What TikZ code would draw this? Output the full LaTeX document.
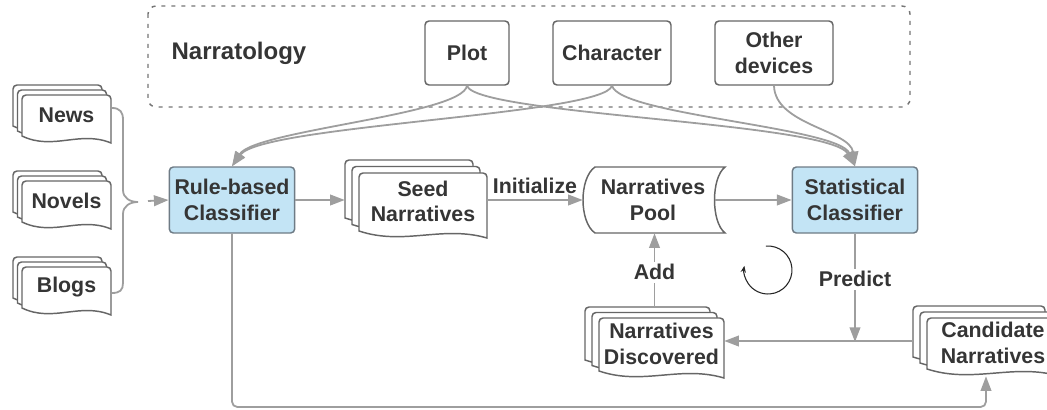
\documentclass[tikz,border=0pt]{standalone}
\usepackage{fontspec}
\setmainfont{Liberation Sans}
\usetikzlibrary{arrows.meta,fit,calc}
\definecolor{txt}{HTML}{353535}
\definecolor{lg}{HTML}{9E9E9E}
\definecolor{bd}{HTML}{666666}
\definecolor{cbd}{HTML}{6E7B85}
\definecolor{cfill}{HTML}{C3E4F5}
\tikzset{
  lbl/.style={font=\fontsize{16}{19}\selectfont\bfseries, text=txt, align=center, inner sep=0pt},
  docline/.style={draw=bd, fill=white, line width=1.1pt},
  cls/.style={lbl, draw=cbd, fill=cfill, line width=1.1pt, rounded corners=3pt, minimum width=94pt, minimum height=49.5pt},
  tbox/.style={lbl, draw=bd, fill=white, line width=1.1pt, rounded corners=3pt, minimum height=48pt},
  conn/.style={draw=lg, line width=1.35pt},
  arr/.style={conn, -{Triangle[length=11pt,width=8pt]}, color=lg},
  elbl/.style={lbl, fill=white, inner sep=2pt},
}
\newcommand\docshape[4]{%
  \filldraw[docline] (#1,#2+#4-7) [rounded corners=3pt] -- (#1,#2) -- (#1+#3,#2) [sharp corners] -- (#1+#3,#2+#4)
    .. controls (#1+0.65*#3,#2+#4-13) and (#1+0.35*#3,#2+#4+8) .. (#1,#2+#4-7) -- cycle;}
\newcommand\stackdoc[8]{%
  \docshape{#2-2*#6}{#3-2*#7}{#4}{#5}
  \docshape{#2-#6}{#3-#7}{#4}{#5}
  \docshape{#2}{#3}{#4}{#5}
  \coordinate (#1-a) at (#2-2*#6,#3-2*#7);
  \coordinate (#1-b) at (#2+#4,#3+#5);
  \node[fit=(#1-a)(#1-b),inner sep=0pt] (#1) {};
  \node[lbl] (#1-t) at (#2+#4/2,#3+#5/2-4) {#8};
}
\begin{document}
\begin{tikzpicture}[x=0.75pt,y=-0.75pt]
\useasboundingbox (0,0) rectangle (1047,410);
% narratology frame
\draw[draw=bd!90, line width=1.1pt, dash pattern=on 3pt off 4.5pt, rounded corners=6pt] (148,6) rectangle (910,107);
\node[font=\fontsize{18}{22}\selectfont\bfseries, text=txt, inner sep=0pt] (narr) at (239,53) {Narratology};
\node[tbox, minimum width=63pt] (plot) at (467,53) {Plot};
\node[tbox, minimum width=88.5pt] (char) at (612,53) {Character};
\node[tbox, minimum width=88.5pt] (oth) at (774,53) {Other\\devices};
% sources
\stackdoc{news}{22}{95}{89}{48}{4.5}{5}{News}
\stackdoc{novels}{22}{181}{89}{48}{4.5}{5}{Novels}
\stackdoc{blogs}{22}{267}{89}{48}{4.5}{5}{Blogs}
% brace
\draw[conn] (112,108) .. controls (120,108) and (123,112) .. (123,120) -- (123,190)
  .. controls (123,198) and (130,202) .. (138,202)
  .. controls (130,202) and (123,206) .. (123,214) -- (123,283)
  .. controls (123,290) and (120,293) .. (112,293);
\coordinate (bs) at (148,201);
% classifiers
\node[cls] (rule) at (232,200) {Rule-based\\Classifier};
\node[cls] (stat) at (855,200) {Statistical\\Classifier};
% seed
\stackdoc{seed}{359}{173}{128}{65}{7}{6.5}{Seed\\Narratives}
% pool
\filldraw[docline] (595,167) -- (725,167) .. controls (711,178) and (711,222) .. (725,233) -- (595,233)
  .. controls (579,222) and (579,178) .. (595,167) -- cycle;
\node[lbl, minimum width=105pt, minimum height=49.5pt] (pool) at (653,200) {Narratives\\Pool};
% discovered / candidate
\stackdoc{disc}{599}{318}{125}{60}{7}{5.5}{Narratives\\Discovered}
\stackdoc{cand}{927}{318}{132}{58}{7}{6}{Candidate\\Narratives}
% connectors
\draw[arr] (bs) -- (rule.west);
\draw[arr] (rule.east) -- (rule.east -| seed.west);
\draw[arr] (seed.east |- pool.west) -- node[lbl, above=4pt] (init) {Initialize} (pool.west);
\draw[arr] ($(pool.east)+(-8,0)$) -- (stat.west);
\coordinate (pj) at (855,342);
\draw[arr] (stat.south) -- node[elbl, pos=0.42] (pred) {Predict} (pj);
\draw[arr] (cand.west) -- (cand.west -| disc.east);
\draw[arr] (disc.north) -- node[elbl, pos=0.47] (add) {Add} (disc.north |- pool.south);
\coordinate (bl) at (600,407);
\draw[arr, rounded corners=4pt] (rule.south) |- (bl) -| (cand.south);
% narratology curves
\draw[arr] (plot.south) .. controls (462,115) and (255,130) .. (rule.north);
\draw[arr] (char.south) .. controls (604,115) and (262,125) .. (rule.north);
\draw[arr] (plot.south) .. controls (476,115) and (830,122) .. (stat.north);
\draw[arr] (char.south) .. controls (620,115) and (838,127) .. (stat.north);
\draw[arr] (oth.south) .. controls (775,125) and (850,130) .. (stat.north);
% cycle mark
\begin{scope}[shift={(768,270)}, x=1pt, y=1pt]
\draw[black!85, line width=0.8pt, -{Stealth[length=5pt,width=4pt]}] (95:18) arc[start angle=95, end angle=-190, radius=18];
\end{scope}
\end{tikzpicture}
\end{document}
